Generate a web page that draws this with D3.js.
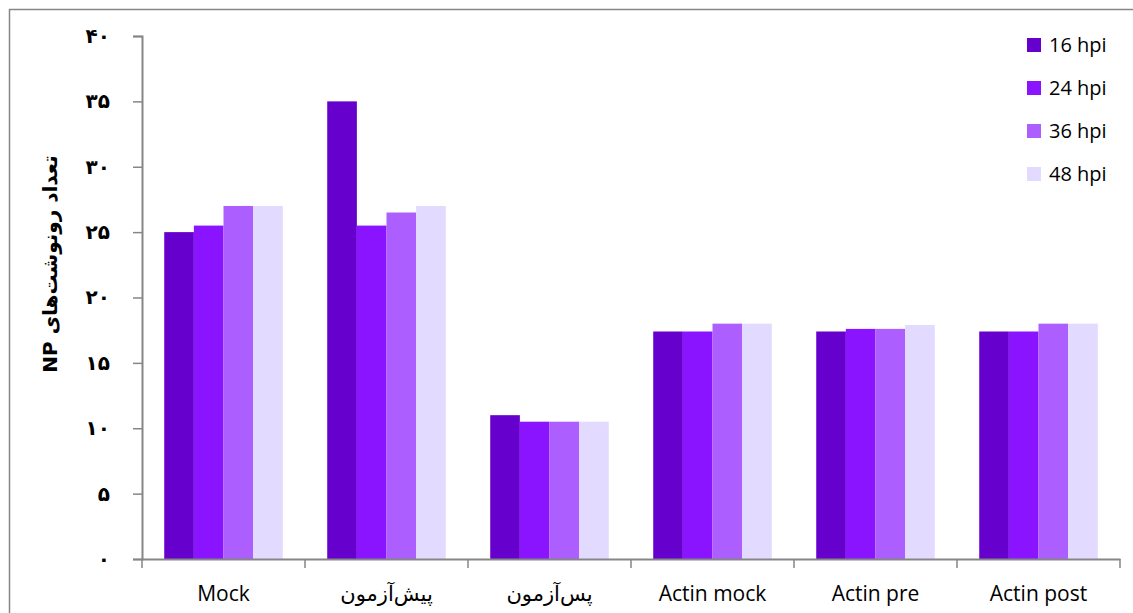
<!DOCTYPE html>
<html>
<head>
<meta charset="utf-8">
<script src="https://cdn.jsdelivr.net/npm/d3@7"></script>
<style>
  body { margin: 0; background: #fff; }
  svg { display: block; }
</style>
</head>
<body>
<svg id="chart"></svg>
<script>
// categories on the x axis
const categories = ['Mock', 'پیش‌آزمون', 'پس‌آزمون', 'Actin mock', 'Actin pre', 'Actin post'];
// series (time points)
const seriesNames = ['16 hpi', '24 hpi', '36 hpi', '48 hpi'];
const seriesColors = ['#6600cc', '#8a14ff', '#ad5eff', '#e2daff'];
// values per series, in category order
const hpi16 = [25, 35, 11, 17.4, 17.4, 17.4];
const hpi24 = [25.5, 25.5, 10.5, 17.4, 17.6, 17.4];
const hpi36 = [27, 26.5, 10.5, 18, 17.6, 18];
const hpi48 = [27, 27, 10.5, 18, 17.9, 18];
const seriesValues = [hpi16, hpi24, hpi36, hpi48];
// y tick labels (Persian digits)
const yTicks = [0, 5, 10, 15, 20, 25, 30, 35, 40];
const yTickLabels = ['۰', '۵', '۱۰', '۱۵', '۲۰', '۲۵', '۳۰', '۳۵', '۴۰'];
const yTitle = 'تعداد رونوشت‌های NP';

const width = 1133, height = 613;
const margin = { left: 142, right: 13, top: 36, bottom: 54 };
const axisColor = '#868686';

const svg = d3.select('#chart')
  .attr('width', width)
  .attr('height', height);

// chart area border
svg.append('rect')
  .attr('x', 9.5).attr('y', 9.5)
  .attr('width', width).attr('height', height)
  .attr('fill', 'none')
  .attr('stroke', axisColor)
  .attr('stroke-width', 1.5);

// one slot per category, bars take 4 of 5.5 bar widths (gap width 150%)
const xSlot = d3.scaleBand().domain(categories).range([margin.left, width - margin.right]);
const slot = xSlot.bandwidth();
const xSub = d3.scaleBand()
  .domain(seriesNames)
  .range([0, slot * 4 / 5.5]);

const y = d3.scaleLinear()
  .domain([0, 40])
  .range([height - margin.bottom, margin.top]);

// bars
const rows = categories.map((c, i) => ({
  cat: c,
  vals: seriesNames.map((s, j) => ({ s, j, v: seriesValues[j][i] }))
}));

const groups = svg.append('g').selectAll('g')
  .data(rows)
  .join('g')
  .attr('transform', d => `translate(${xSlot(d.cat) + slot * 0.75 / 5.5},0)`);

groups.selectAll('rect')
  .data(d => d.vals)
  .join('rect')
  .attr('x', d => xSub(d.s))
  .attr('width', xSub.bandwidth())
  .attr('y', d => y(d.v))
  .attr('height', d => y(0) - y(d.v))
  .attr('fill', d => seriesColors[d.j]);

// y axis
const yAxis = svg.append('g')
  .attr('transform', `translate(${margin.left},0)`)
  .call(d3.axisLeft(y)
    .tickValues(yTicks)
    .tickSize(9)
    .tickPadding(23)
    .tickFormat((d, i) => yTickLabels[i]));
yAxis.select('.domain').attr('stroke', axisColor).attr('stroke-width', 2);
yAxis.selectAll('.tick line').attr('stroke', axisColor).attr('stroke-width', 1.5);
yAxis.selectAll('.tick text')
  .attr('fill', '#000')
  .style('font-family', '"DejaVu Sans", sans-serif')
  .style('font-size', '20px')
  .style('font-weight', 'bold');

// x axis
const xAxis = svg.append('g')
  .attr('transform', `translate(0,${y(0)})`)
  .call(d3.axisBottom(xSlot).tickSize(0).tickPadding(27));
xAxis.select('.domain').attr('stroke', axisColor).attr('stroke-width', 2);
xAxis.selectAll('.tick text')
  .attr('fill', '#000')
  .style('font-family', '"Open Sans", "DejaVu Sans", sans-serif')
  .style('font-size', '21px');
// category boundary ticks
const bounds = categories.map(c => xSlot(c)).concat([width - margin.right]);
xAxis.selectAll('line.bound')
  .data(bounds)
  .join('line')
  .attr('class', 'bound')
  .attr('x1', d => d).attr('x2', d => d)
  .attr('y1', 0).attr('y2', 9)
  .attr('stroke', axisColor)
  .attr('stroke-width', 1.5);

// y title
svg.append('text')
  .attr('transform', `translate(57,264) rotate(-90)`)
  .attr('text-anchor', 'middle')
  .attr('direction', 'rtl')
  .style('font-family', '"DejaVu Sans", sans-serif')
  .style('font-size', '20px')
  .style('font-weight', 'bold')
  .text(yTitle);

// legend
const legend = svg.append('g')
  .attr('transform', 'translate(1027,45)');
const items = legend.selectAll('g')
  .data(seriesNames)
  .join('g')
  .attr('transform', (d, i) => `translate(0,${i * 43})`);
items.append('rect')
  .attr('x', 0).attr('y', -7)
  .attr('width', 14).attr('height', 14)
  .attr('fill', (d, i) => seriesColors[i]);
items.append('text')
  .attr('x', 22).attr('y', 0)
  .attr('dy', '0.35em')
  .style('font-family', '"Open Sans", sans-serif')
  .style('font-size', '20px')
  .text(d => d);
</script>
</body>
</html>
